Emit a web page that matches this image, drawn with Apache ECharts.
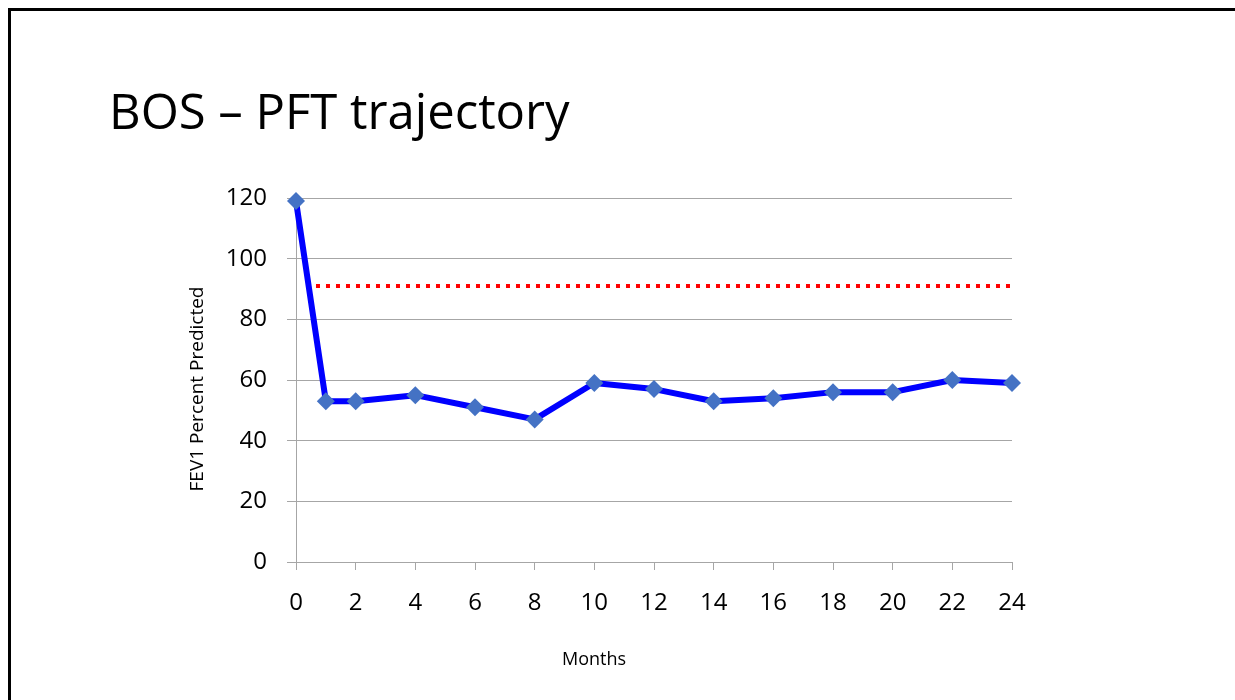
<!DOCTYPE html>
<html>
<head>
<meta charset="utf-8">
<script src="https://cdn.jsdelivr.net/npm/echarts@6/dist/echarts.min.js"></script>
<style>
  html, body { margin: 0; padding: 0; background: #fff; }
  #chart { width: 1235px; height: 700px; }
</style>
</head>
<body>
<div id="chart"></div>
<script>
// months after diagnosis and FEV1 % predicted
const months = [0, 1, 2, 4, 6, 8, 10, 12, 14, 16, 18, 20, 22, 24];
const fev1 = [119, 53, 53, 55, 51, 47, 59, 57, 53, 54, 56, 56, 60, 59];
// baseline reference line (dotted red)
const refMonths = [0.67, 24];
const refValue = [91, 91];

const font = "'Open Sans', 'Noto Sans', sans-serif";
const chart = echarts.init(document.getElementById("chart"));

chart.setOption({
  backgroundColor: "#fff",
  animation: false,
  title: {
    text: "BOS – PFT trajectory",
    left: 104,
    top: 86,
    textStyle: { fontFamily: font, fontSize: 49, fontWeight: "normal", color: "#000" },
  },
  graphic: [
    { type: "rect", left: 8, top: 8, shape: { width: 1240, height: 3 }, style: { fill: "#000" } },
    { type: "rect", left: 8, top: 8, shape: { width: 3, height: 700 }, style: { fill: "#000" } },
    {
      type: "text", x: 594, y: 660,
      style: { text: "Months", fontFamily: font, fontSize: 18, fill: "#000", align: "center", verticalAlign: "middle" },
    },
    {
      type: "text", x: 198, y: 389, rotation: Math.PI / 2,
      style: { text: "FEV1 Percent Predicted", fontFamily: font, fontSize: 19, fill: "#000", align: "center", verticalAlign: "middle" },
    },
  ],
  grid: { left: 296, right: 223, top: 198, bottom: 138 },
  xAxis: {
    type: "value",
    min: 0,
    max: 24,
    interval: 2,
    axisLine: { show: true, lineStyle: { color: "#a6a6a6", width: 1 } },
    axisTick: { show: true, length: 8, lineStyle: { color: "#a6a6a6" } },
    axisLabel: { margin: 29, fontFamily: font, fontSize: 24, color: "#000" },
    splitLine: { show: false },
  },
  yAxis: {
    type: "value",
    min: 0,
    max: 120,
    interval: 20,
    axisLine: { show: true, lineStyle: { color: "#a6a6a6", width: 1 } },
    axisTick: { show: true, length: 9, lineStyle: { color: "#a6a6a6" } },
    axisLabel: { margin: 29, fontFamily: font, fontSize: 24, color: "#000" },
    splitLine: { show: true, lineStyle: { color: "#a6a6a6", width: 1 } },
  },
  series: [
    {
      type: "line",
      data: refMonths.map((m, i) => [m, refValue[i]]),
      symbol: "none",
      lineStyle: { color: "#ff0000", width: 4, type: [4, 6], cap: "butt" },
      z: 2,
    },
    {
      type: "line",
      data: months.map((m, i) => [m, fev1[i]]),
      symbol: "diamond",
      symbolSize: 18,
      itemStyle: { color: "#4472c4" },
      lineStyle: { color: "#0000ff", width: 6 },
      z: 3,
    },
  ],
});
</script>
</body>
</html>
